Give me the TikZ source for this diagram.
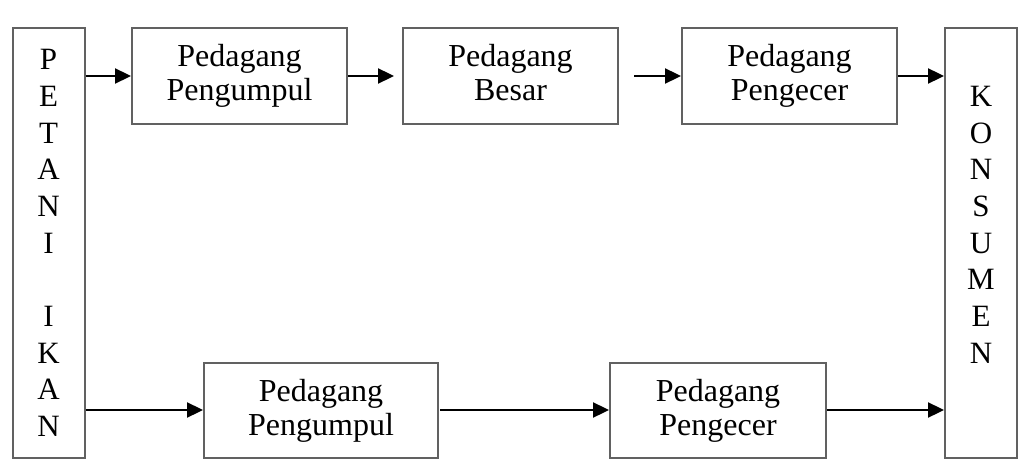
\documentclass[tikz,border=0pt]{standalone}
\usepackage{fontspec}
\setmainfont{Liberation Serif}
\usetikzlibrary{arrows.meta}
\tikzset{
  box/.style={draw=black!62, line width=2pt, rectangle, inner sep=0pt, align=center,
              font=\fontsize{32}{34}\selectfont},
  colbox/.style={draw=black!62, line width=2pt, rectangle, inner sep=0pt, align=center,
              minimum width=72pt, minimum height=430pt,
              font=\fontsize{31}{36.7}\selectfont},
  flow/.style={line width=2.3pt, draw=black, -{Triangle[length=16pt,width=15pt]}}
}
\begin{document}
\begin{tikzpicture}[x=1pt,y=-1pt]
\useasboundingbox (0,0) rectangle (1024,473);
% side boxes
\node[colbox] (petani) at (48.5,243) {P\\E\\T\\A\\N\\I\\\mbox{}\\I\\K\\A\\N};
\node[colbox] (konsumen) at (981,243) {K\\O\\N\\S\\U\\M\\E\\N\\\mbox{}};
% top row
\node[box, minimum width=215pt, minimum height=96pt] (p1) at (239.5,76) {Pedagang\\Pengumpul};
\node[box, minimum width=215pt, minimum height=96pt] (b1) at (510.5,76) {Pedagang\\Besar\vphantom{g}};
\node[box, minimum width=215pt, minimum height=96pt] (e1) at (789.5,76) {Pedagang\\Pengecer};
% bottom row
\node[box, minimum width=234pt, minimum height=95pt] (p2) at (321,410.5) {Pedagang\\Pengumpul};
\node[box, minimum width=216pt, minimum height=95pt] (e2) at (718,410.5) {Pedagang\\Pengecer};
% free ends
\coordinate (a2end) at (394,76);
\coordinate (a3start) at (634,76);
\coordinate (a6start) at (440,410);
% arrows top
\draw[flow] (petani.east |- 0,76) -- (p1.west);
\draw[flow] (p1.east) -- (a2end);
\draw[flow] (a3start) -- (e1.west);
\draw[flow] (e1.east) -- (konsumen.west |- e1.east);
% arrows bottom
\draw[flow] (petani.east |- 0,410) -- (p2.west |- 0,410);
\draw[flow] (a6start) -- (e2.west |- a6start);
\draw[flow] (e2.east |- 0,410) -- (konsumen.west |- 0,410);
\end{tikzpicture}
\end{document}
